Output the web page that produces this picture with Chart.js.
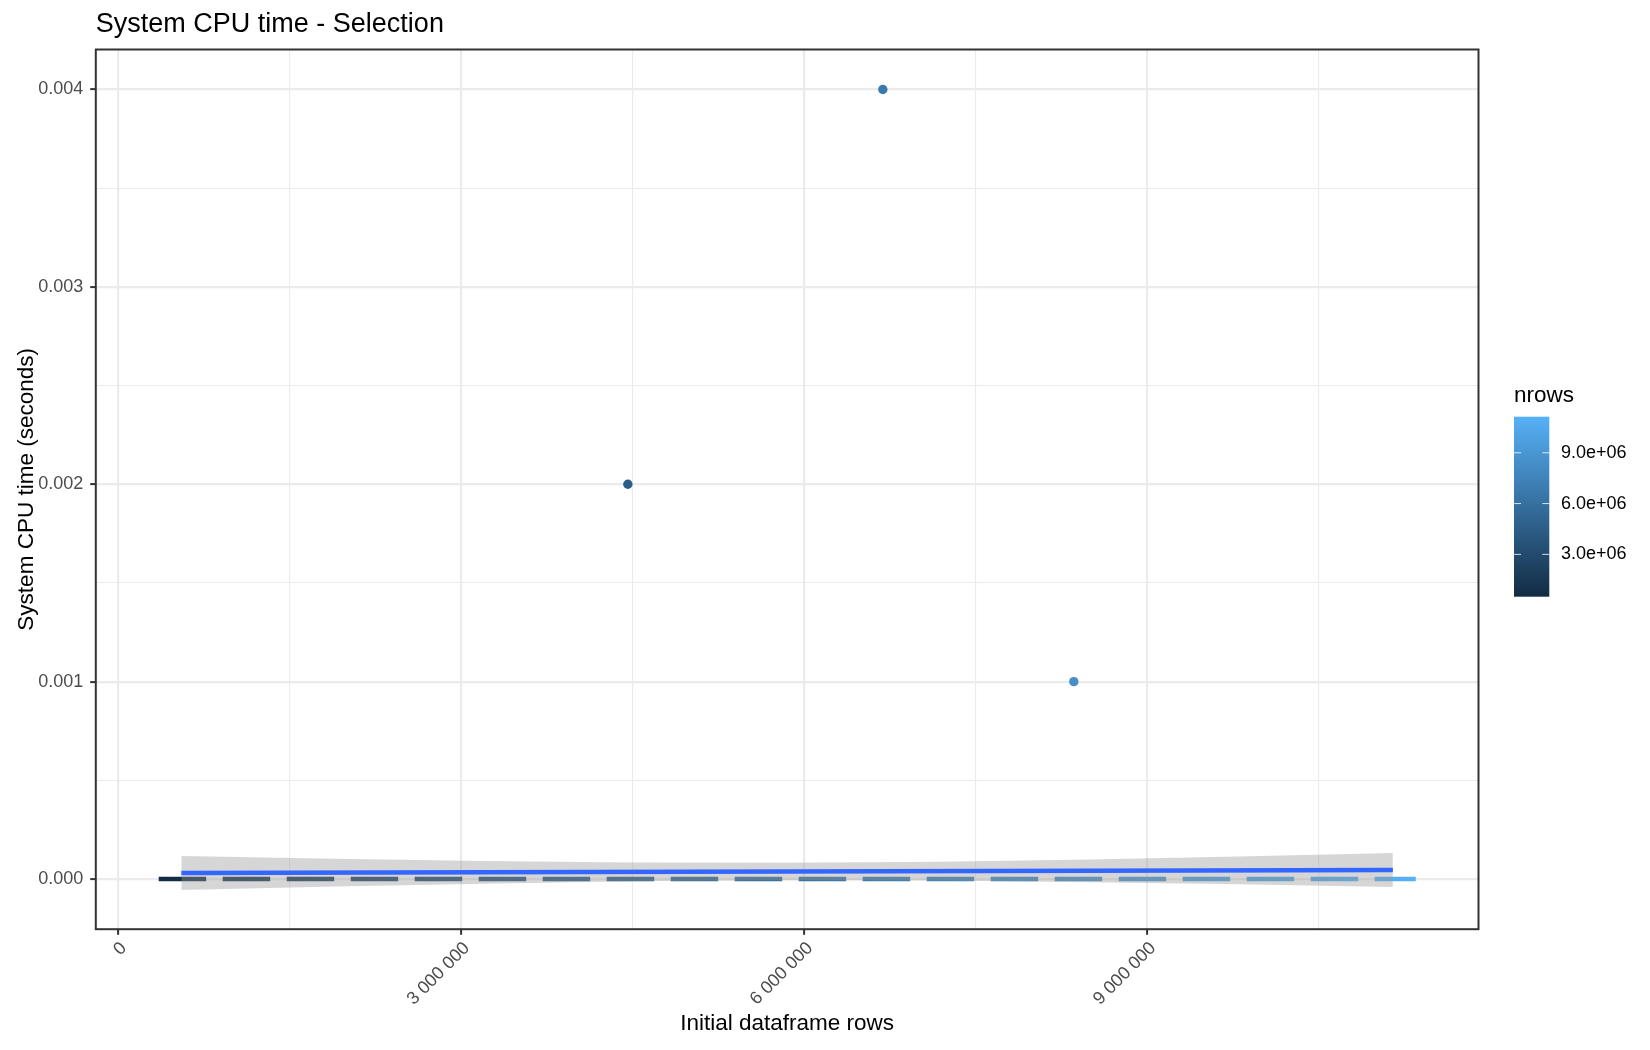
<!DOCTYPE html>
<html>
<head>
<meta charset="utf-8">
<title>System CPU time - Selection</title>
<script src="https://cdn.jsdelivr.net/npm/chart.js@4.4.1/dist/chart.umd.min.js"></script>
<style>
  html, body { margin: 0; padding: 0; background: #ffffff; }
  #wrap { width: 1650px; height: 1050px; }
</style>
</head>
<body>
<div id="wrap"><canvas id="cpuChart" width="1650" height="1050"></canvas></div>
<script>
// 축 눈금
const xMajorTicks = [0, 3000000, 6000000, 9000000];
const xMinorTicks = [1500000, 4500000, 7500000, 10500000];
const yMajorTicks = [0, 0.001, 0.002, 0.003, 0.004];
const yMinorTicks = [0.0005, 0.0015, 0.0025, 0.0035];

// 0 이 아닌 측정값 (점)
const pointRows = [4460000, 6690000, 8360000];
const pointTimes = [0.002, 0.004, 0.001];

// 나머지 측정값은 모두 0 (점선)
const zeroRows = [357000, 11350000];
const zeroTimes = [0, 0];

// lm 추세선
const smoothRows = [555000, 11150000];
const smoothTimes = [0.0000305, 0.0000457];

// 신뢰구간 (회색 띠)
const bandRows = [555000, 1900000, 3200000, 4500000, 5850000, 7200000, 8500000, 9800000, 11150000];
const bandUpper = [0.0001166, 0.0001028, 0.000092, 0.0000841, 0.0000822, 0.0000879, 0.0000996, 0.0001142, 0.0001318];
const bandLower = [-0.0000556, -0.000038, -0.0000234, -0.0000117, -0.000006, -0.0000079, -0.0000158, -0.0000266, -0.0000404];

// 범례 (nrows)
const legendTicks = [3000000, 6000000, 9000000];
const nrowsRange = [500000, 11130000];

const FONT = "'Liberation Sans', Arial, sans-serif";
const LOW = [19, 43, 67];     // #132B43
const HIGH = [86, 177, 247];  // #56B1F7

function nrowsColor(v) {
  let t = (v - nrowsRange[0]) / (nrowsRange[1] - nrowsRange[0]);
  t = Math.max(0, Math.min(1, t));
  const c = LOW.map((l, i) => Math.round(l + (HIGH[i] - l) * t));
  return `rgb(${c[0]}, ${c[1]}, ${c[2]})`;
}

const toXY = (xs, ys) => xs.map((x, i) => ({ x: x, y: ys[i] }));
const sortedTicks = (a, b) => [...a, ...b].sort((p, q) => p - q).map((v) => ({ value: v }));
const isMajor = (list, v) => list.some((m) => Math.abs(m - v) < 1e-9);

const fmtRows = (v) => (v === 0 ? "0" : Math.round(v).toLocaleString("en-US").replace(/,/g, " "));
const fmtSci = (v) => {
  const e = Math.floor(Math.log10(v));
  const m = v / Math.pow(10, e);
  return m.toFixed(1) + "e+" + String(e).padStart(2, "0");
};

// 제목, 패널 테두리, 색상 범례
const ggDecor = {
  id: "ggDecor",
  afterDraw(chart) {
    const { ctx, chartArea } = chart;
    ctx.save();

    ctx.strokeStyle = "#333333";
    ctx.lineWidth = 2;
    ctx.strokeRect(chartArea.left, chartArea.top, chartArea.right - chartArea.left, chartArea.bottom - chartArea.top);

    ctx.fillStyle = "#000000";
    ctx.font = `27px ${FONT}`;
    ctx.textAlign = "left";
    ctx.textBaseline = "alphabetic";
    ctx.fillText("System CPU time - Selection", chartArea.left, 31.7);

    // colour bar
    const barL = 1514, barW = 35.3, barT = 416.7, barB = 596.7;
    ctx.font = `22.5px ${FONT}`;
    ctx.fillText("nrows", barL, 401.7);

    const grad = ctx.createLinearGradient(0, barB, 0, barT);
    grad.addColorStop(0, nrowsColor(nrowsRange[0]));
    grad.addColorStop(1, nrowsColor(nrowsRange[1]));
    ctx.fillStyle = grad;
    ctx.fillRect(barL, barT, barW, barB - barT);

    ctx.font = `18px ${FONT}`;
    ctx.textBaseline = "middle";
    legendTicks.forEach((v) => {
      const y = barB - ((v - nrowsRange[0]) / (nrowsRange[1] - nrowsRange[0])) * (barB - barT);
      ctx.strokeStyle = "rgba(255, 255, 255, 0.8)";
      ctx.lineWidth = 1;
      ctx.beginPath();
      ctx.moveTo(barL, y);
      ctx.lineTo(barL + 7, y);
      ctx.moveTo(barL + barW - 7, y);
      ctx.lineTo(barL + barW, y);
      ctx.stroke();
      ctx.fillStyle = "#000000";
      ctx.fillText(fmtSci(v), 1561, y);
    });

    ctx.restore();
  },
};

const ctxCpu = document.getElementById("cpuChart").getContext("2d");

const cpuChart = new Chart(ctxCpu, {
  type: "scatter",
  data: {
    datasets: [
      {
        label: "nrows",
        data: toXY(pointRows, pointTimes),
        showLine: false,
        pointRadius: 4.7,
        pointBorderWidth: 0,
        pointBackgroundColor: pointRows.map(nrowsColor),
        order: 1,
      },
      {
        label: "smooth",
        data: toXY(smoothRows, smoothTimes),
        showLine: true,
        borderColor: "#3366FF",
        borderWidth: 4.4,
        pointRadius: 0,
        order: 2,
      },
      {
        label: "se upper",
        data: toXY(bandRows, bandUpper),
        showLine: true,
        borderWidth: 0,
        pointRadius: 0,
        fill: "+1",
        backgroundColor: "rgba(153, 153, 153, 0.4)",
        order: 3,
      },
      {
        label: "se lower",
        data: toXY(bandRows, bandLower),
        showLine: true,
        borderWidth: 0,
        pointRadius: 0,
        order: 4,
      },
      {
        label: "zero",
        data: toXY(zeroRows, zeroTimes),
        showLine: true,
        borderWidth: 4.4,
        borderDash: [47.5, 16.5], // 점선
        borderCapStyle: "butt",
        pointRadius: 0,
        borderColor: (context) => {
          const { chart } = context;
          const { ctx, chartArea, scales } = chart;
          if (!chartArea) return nrowsColor(zeroRows[0]);
          const g = ctx.createLinearGradient(
            scales.x.getPixelForValue(zeroRows[0]), 0,
            scales.x.getPixelForValue(zeroRows[1]), 0
          );
          g.addColorStop(0, "#132B43");
          g.addColorStop(1, "#56B1F7");
          return g;
        },
        order: 5,
      },
    ],
  },
  options: {
    responsive: false,
    animation: false,
    layout: { padding: { top: 49.5, right: 171.5, bottom: 0, left: 0 } },
    plugins: {
      legend: { display: false },
      tooltip: { enabled: false },
    },
    scales: {
      x: {
        type: "linear",
        min: -193000,
        max: 11899000,
        afterBuildTicks: (axis) => { axis.ticks = sortedTicks(xMajorTicks, xMinorTicks); },
        afterFit: (axis) => { axis.height = 120.8; },
        border: { display: false },
        grid: {
          color: "#EBEBEB",
          lineWidth: (c) => (isMajor(xMajorTicks, c.tick.value) ? 2.2 : 1.1),
          tickColor: (c) => (isMajor(xMajorTicks, c.tick.value) ? "#333333" : "rgba(0,0,0,0)"),
          tickWidth: 2,
          tickLength: 5.6,
        },
        ticks: {
          autoSkip: false,
          minRotation: 45,
          maxRotation: 45,
          padding: 3,
          labelOffset: 6,
          color: "#4D4D4D",
          font: { family: FONT, size: 18 },
          callback: (value) => (isMajor(xMajorTicks, value) ? fmtRows(value) : ""),
        },
        title: {
          display: true,
          text: "Initial dataframe rows",
          color: "#000000",
          font: { family: FONT, size: 22.5 },
          padding: { top: 0, bottom: 12.5 },
        },
      },
      y: {
        type: "linear",
        min: -0.000254,
        max: 0.0042026,
        afterBuildTicks: (axis) => { axis.ticks = sortedTicks(yMajorTicks, yMinorTicks); },
        afterFit: (axis) => { axis.width = 95.8; },
        border: { display: false },
        grid: {
          color: "#EBEBEB",
          lineWidth: (c) => (isMajor(yMajorTicks, c.tick.value) ? 2.2 : 1.1),
          tickColor: (c) => (isMajor(yMajorTicks, c.tick.value) ? "#333333" : "rgba(0,0,0,0)"),
          tickWidth: 2,
          tickLength: 5.6,
        },
        ticks: {
          autoSkip: false,
          padding: 7,
          color: "#4D4D4D",
          font: { family: FONT, size: 18 },
          callback: (value) => (isMajor(yMajorTicks, value) ? value.toFixed(3) : ""),
        },
        title: {
          display: true,
          text: "System CPU time (seconds)",
          color: "#000000",
          font: { family: FONT, size: 22.5 },
          padding: { top: 13.5, bottom: 0 },
        },
      },
    },
  },
  plugins: [ggDecor],
});
</script>
</body>
</html>
